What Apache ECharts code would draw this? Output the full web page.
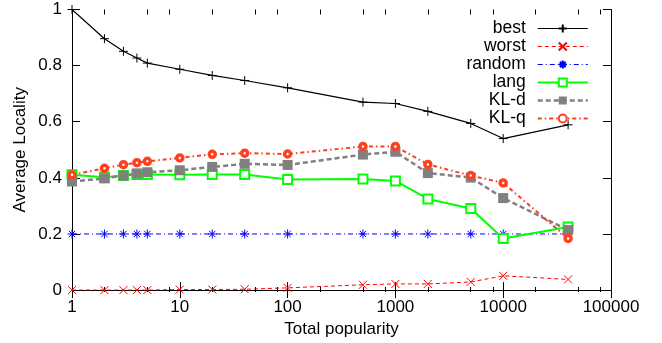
<!DOCTYPE html>
<html>
<head>
<meta charset="utf-8">
<script src="https://cdn.jsdelivr.net/npm/echarts@6/dist/echarts.min.js"></script>
<style>
html,body{margin:0;padding:0;background:#fff;}
#chart{width:662px;height:343px;}
</style>
</head>
<body>
<div id="chart"></div>
<script>
const popularity = [1, 2, 3, 4, 5, 10, 20, 40, 100, 500, 1000, 2000, 5000, 10000, 40000];
const best   = [1.0, 0.896, 0.851, 0.827, 0.809, 0.787, 0.765, 0.747, 0.721, 0.670, 0.665, 0.637, 0.594, 0.540, 0.589];
const worst  = [0, 0, 0, 0, 0, 0.002, 0.002, 0.003, 0.008, 0.019, 0.022, 0.022, 0.029, 0.051, 0.038];
const random = [0.2, 0.2, 0.2, 0.2, 0.2, 0.2, 0.2, 0.2, 0.2, 0.2, 0.2, 0.2, 0.2, 0.2, 0.2];
const lang   = [0.411, 0.402, 0.408, 0.412, 0.412, 0.411, 0.412, 0.412, 0.394, 0.396, 0.389, 0.325, 0.291, 0.184, 0.225];
const klD    = [0.387, 0.398, 0.408, 0.416, 0.420, 0.427, 0.439, 0.450, 0.446, 0.483, 0.493, 0.417, 0.401, 0.328, 0.214];
const klQ    = [0.411, 0.434, 0.447, 0.454, 0.459, 0.471, 0.484, 0.488, 0.485, 0.512, 0.512, 0.448, 0.408, 0.382, 0.184];
const xMinorTicks = [2, 5, 8, 20, 50, 80, 200, 500, 800, 2000, 5000, 8000, 20000, 50000, 80000];
const seriesNames = ['best', 'worst', 'random', 'lang', 'KL-d', 'KL-q'];

const FONT = 'Liberation Sans, Arial, Helvetica, sans-serif';
const AXIS_FS = 17;
const pairs = arr => popularity.map((x, i) => [x, arr[i]]);
const minorLog = xMinorTicks.map(v => Math.log10(v));

const gridRect = {left: 72, right: 51, top: 9.5, bottom: 51};
const logAxisBase = {type: 'log', logBase: 10, min: 1, max: 100000, splitLine: {show: false}};
const minorAxisBase = {type: 'value', min: 0, max: 5, interval: 1, gridIndex: 1, splitLine: {show: false},
  axisLine: {show: false}, axisLabel: {show: false},
  axisTick: {show: true, inside: true, length: 5, lineStyle: {color: '#000', width: 1}, customValues: minorLog}};

function mk(name, data, lineColor, lineWidth, lineType, symbol, symbolSize, itemStyle) {
  return {
    name: name, type: 'line', xAxisIndex: 0, yAxisIndex: 0,
    data: pairs(data),
    symbol: symbol, symbolSize: symbolSize,
    lineStyle: {color: lineColor, width: lineWidth, type: lineType},
    itemStyle: itemStyle,
    emphasis: {disabled: true},
    z: 3
  };
}

const plusPath = 'path://M5,0L5,10M0,5L10,5';
const crossPath = 'path://M0,0L10,10M0,10L10,0';
const starPath = 'path://M5,0L5,10M0,5L10,5M1.5,1.5L8.5,8.5M1.5,8.5L8.5,1.5';

const option = {
  animation: false,
  backgroundColor: '#fff',
  textStyle: {fontFamily: FONT},
  grid: [
    Object.assign({}, gridRect),
    Object.assign({}, gridRect)
  ],
  xAxis: [
    Object.assign({}, logAxisBase, {
      gridIndex: 0, position: 'bottom',
      name: 'Total popularity', nameLocation: 'middle', nameGap: 22,
      nameTextStyle: {color: '#000', fontSize: AXIS_FS, fontFamily: FONT},
      axisLine: {show: true, lineStyle: {color: '#000', width: 1}},
      axisTick: {show: true, inside: true, length: 8, lineStyle: {color: '#000', width: 1}},
      axisLabel: {show: true, color: '#000', fontSize: AXIS_FS, fontFamily: FONT, margin: 9,
        formatter: v => String(Math.round(v))}
    }),
    Object.assign({}, logAxisBase, {
      gridIndex: 0, position: 'top',
      axisLine: {show: true, lineStyle: {color: '#000', width: 1}},
      axisTick: {show: true, inside: true, length: 8, lineStyle: {color: '#000', width: 1}},
      axisLabel: {show: false}
    }),
    Object.assign({}, minorAxisBase, {position: 'bottom'}),
    Object.assign({}, minorAxisBase, {position: 'top'})
  ],
  yAxis: [
    {
      type: 'value', gridIndex: 0, position: 'left', min: 0, max: 1, interval: 0.2,
      name: 'Average Locality', nameLocation: 'middle', nameGap: 43, nameMoveOverlap: false,
      nameTextStyle: {color: '#000', fontSize: AXIS_FS, fontFamily: FONT},
      axisLine: {show: true, lineStyle: {color: '#000', width: 1}},
      axisTick: {show: true, inside: true, length: 8, lineStyle: {color: '#000', width: 1}},
      axisLabel: {color: '#000', fontSize: AXIS_FS, fontFamily: FONT, margin: 10},
      splitLine: {show: false}
    },
    {
      type: 'value', gridIndex: 0, position: 'right', min: 0, max: 1, interval: 0.2,
      axisLine: {show: true, lineStyle: {color: '#000', width: 1}},
      axisTick: {show: true, inside: true, length: 8, lineStyle: {color: '#000', width: 1}},
      axisLabel: {show: false},
      splitLine: {show: false}
    },
    {
      type: 'value', gridIndex: 1, min: 0, max: 1, show: false
    }
  ],
  legend: {
    orient: 'vertical', right: 68, top: 14.5, align: 'right',
    itemWidth: 50, itemHeight: 10, itemGap: 0,
    data: seriesNames,
    lineStyle: {width: 'inherit', type: 'inherit'},
    textStyle: {color: '#000', fontSize: 17.5, fontFamily: FONT, lineHeight: 17.2, padding: [0, 7, 0, 0]},
    selectedMode: false
  },
  series: [
    mk('best', best, '#000000', 1.2, 'solid', plusPath, 9, {color: 'none', borderColor: '#000000', borderWidth: 1}),
    mk('worst', worst, '#ff0000', 1, [4, 3], crossPath, 8, {color: 'none', borderColor: '#ff0000', borderWidth: 1}),
    mk('random', random, '#0000ff', 1, [5, 3, 1, 3], starPath, 9, {color: 'none', borderColor: '#0000ff', borderWidth: 1}),
    mk('lang', lang, '#00ff00', 2, 'solid', 'rect', 9, {color: '#ffffff', borderColor: '#00ff00', borderWidth: 2}),
    mk('KL-d', klD, '#808080', 2.5, [5, 3], 'rect', 10, {color: '#808080', borderColor: '#808080', borderWidth: 0}),
    mk('KL-q', klQ, '#ff4020', 2, [4, 3, 1.5, 3], 'circle', 6, {color: '#ffffff', borderColor: '#ff4020', borderWidth: 3.5})
  ]
};

const chart = echarts.init(document.getElementById('chart'), null, {renderer: 'canvas'});
chart.setOption(option);
</script>
</body>
</html>
